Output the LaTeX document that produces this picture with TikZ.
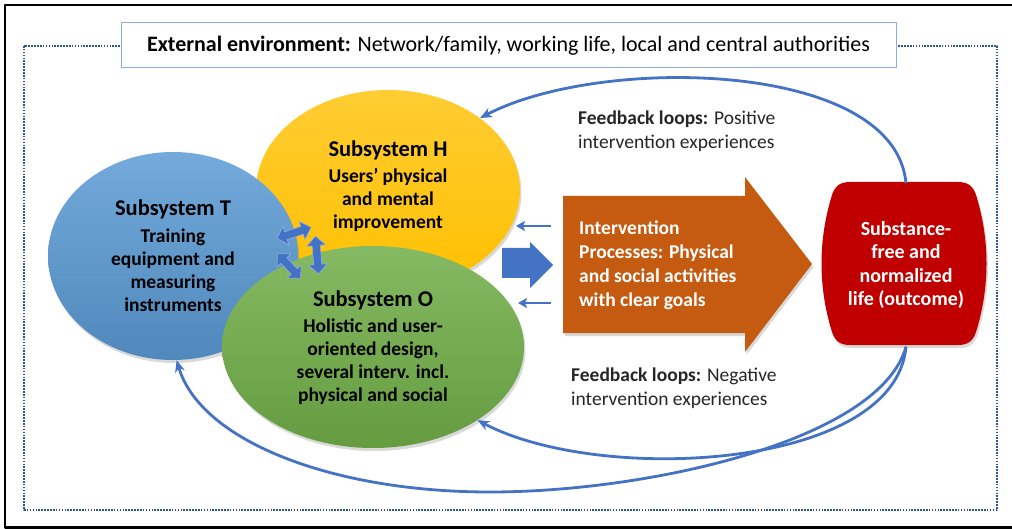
\documentclass[tikz,border=0pt]{standalone}
\usepackage{fontspec}
\setmainfont{Carlito}
\usetikzlibrary{arrows.meta,shapes.geometric,shapes.arrows,shadows}
\definecolor{subT}{HTML}{5B9BD5}
\definecolor{subH}{HTML}{FFC000}
\definecolor{subO}{HTML}{70AD47}
\definecolor{procorange}{HTML}{C55A11}
\definecolor{outred}{HTML}{C00000}
\definecolor{loopblue}{HTML}{4472C4}
\definecolor{framedot}{HTML}{2F5597}
\definecolor{boxedge}{HTML}{8FAADC}
\begin{document}
\begin{tikzpicture}[x=1pt, y=-1pt, line join=round, >={Stealth[length=12pt,width=10pt]}]
		\tikzset{sub/.style={ellipse, inner sep=0pt, drop shadow={opacity=0.3, shadow xshift=1.5pt, shadow yshift=-3pt}}}
		\tikzset{subtext/.style={align=center, inner sep=0pt, font=\fontsize{19.5}{23}\selectfont\bfseries}}
		\tikzset{loop/.style={draw=loopblue, line width=2.8pt, ->}}
		\tikzset{smallarr/.style={draw=loopblue, line width=2.2pt, -{Stealth[length=9pt,width=10pt,inset=2pt]}}}
		\tikzset{exchange/.style={double arrow, fill=loopblue, draw=loopblue!55, line width=0.6pt, inner sep=3.5pt, double arrow head extend=5pt, minimum width=19pt}}
		\tikzset{fbtext/.style={align=left, anchor=west, inner sep=0pt, font=\fontsize{19.5}{23.5}\selectfont, text=black!85}}
		\def\titlefont{\fontsize{22.5}{25}\selectfont}
		\useasboundingbox (0,0) rectangle (1012,529);
		\draw[line width=2.2pt] (1015,5) -- (5,5) -- (5,527.5) -- (1015,527.5);
		\draw[framedot, line width=1.6pt, dash pattern=on 1.6pt off 1.3pt] (24,46) rectangle (997,510);
		\node (env) [draw=boxedge, line width=1pt, fill=white, minimum width=775pt, minimum height=45pt, font=\fontsize{22}{25}\selectfont] at (508.5,45.5) {\textbf{External environment:} Network/family, working life, local and central authorities};
		\node (H) [sub, top color=subH!80!white, bottom color=subH, minimum width=264pt, minimum height=200pt] at (388,190) {};
		\node (T) [sub, top color=subT!85!white, bottom color=subT!88!black, minimum width=250pt, minimum height=208pt] at (173,256) {};
		\node (O) [sub, top color=subO!85!white, bottom color=subO!90!black, minimum width=302pt, minimum height=202pt] at (373,347) {};
		\node (Htext) [subtext] at (388,186) {{\titlefont Subsystem H}\\[3pt] Users’ physical\\ and mental\\ improvement};
		\node (Ttext) [subtext] at (173,256) {{\titlefont Subsystem T}\\[4pt] Training\\ equipment and\\ measuring\\ instruments};
		\node (Otext) [subtext] at (373,348) {{\titlefont Subsystem O}\\[3pt] Holistic and user-\\ oriented design,\\ several interv. incl.\\ physical and social};
		\node (xa) [exchange, rotate=18, minimum height=36pt] at (294,233) {};
		\node (xb) [exchange, rotate=95, minimum height=38pt] at (317,255) {};
		\node (xc) [exchange, rotate=-47, minimum height=34pt] at (289,266) {};
		\fill[loopblue] (502,248) -- (530,248) -- (530,242) -- (553,265) -- (530,288) -- (530,278) -- (502,278) -- cycle;
		\fill[procorange, drop shadow={opacity=0.3, shadow xshift=1.5pt, shadow yshift=-3pt}] (563,196) -- (745,196) -- (745,177) -- (812,264) -- (745,352) -- (745,333) -- (563,333) -- cycle;
		\node (proc) [anchor=west, align=left, inner sep=0pt, text=white, font=\fontsize{19.5}{24}\selectfont\bfseries] at (579,265) {Intervention\\ Processes: Physical\\ and social activities\\ with clear goals};
		\fill[outred, drop shadow={opacity=0.3, shadow xshift=1.5pt, shadow yshift=-3pt}] (850,182) -- (958,182)
			.. controls (968,182) and (973,186) .. (976,195)
			.. controls (990,240) and (990,287) .. (976,332)
			.. controls (973,341) and (968,345) .. (958,345)
			-- (850,345)
			.. controls (840,345) and (835,341) .. (832,332)
			.. controls (818,287) and (818,240) .. (832,195)
			.. controls (835,186) and (840,182) .. (850,182) -- cycle;
		\node (outcome) [align=center, inner sep=0pt, text=white, minimum width=160pt, minimum height=163pt, font=\fontsize{20}{23.5}\selectfont\bfseries] at (906,265) {Substance-\\ free and\\ normalized\\ life (outcome)};
		\coordinate (fromH) at (551,226);
		\coordinate (toH) at (516,226);
		\coordinate (fromO) at (551,303);
		\coordinate (toO) at (518,303);
		\draw[smallarr] (fromH) -- (toH);
		\draw[smallarr] (fromO) -- (toO);
		\coordinate (dip) at (490,492);
		\draw[loop] (outcome.north) .. controls (895,60) and (600,55) .. (H.38);
		\draw[loop] (outcome.south) .. controls (895,470) and (600,485) .. (O.-35);
		\draw[loop] (outcome.south) .. controls (880,440) and (650,492) .. (dip) .. controls (330,492) and (200,440) .. (T.-88);
		\node (pos) [fbtext] at (578,131) {\textbf{Feedback loops:} Positive\\ intervention experiences};
		\node (neg) [fbtext] at (571,388) {\textbf{Feedback loops:} Negative\\ intervention experiences};
\end{tikzpicture}
\end{document}
